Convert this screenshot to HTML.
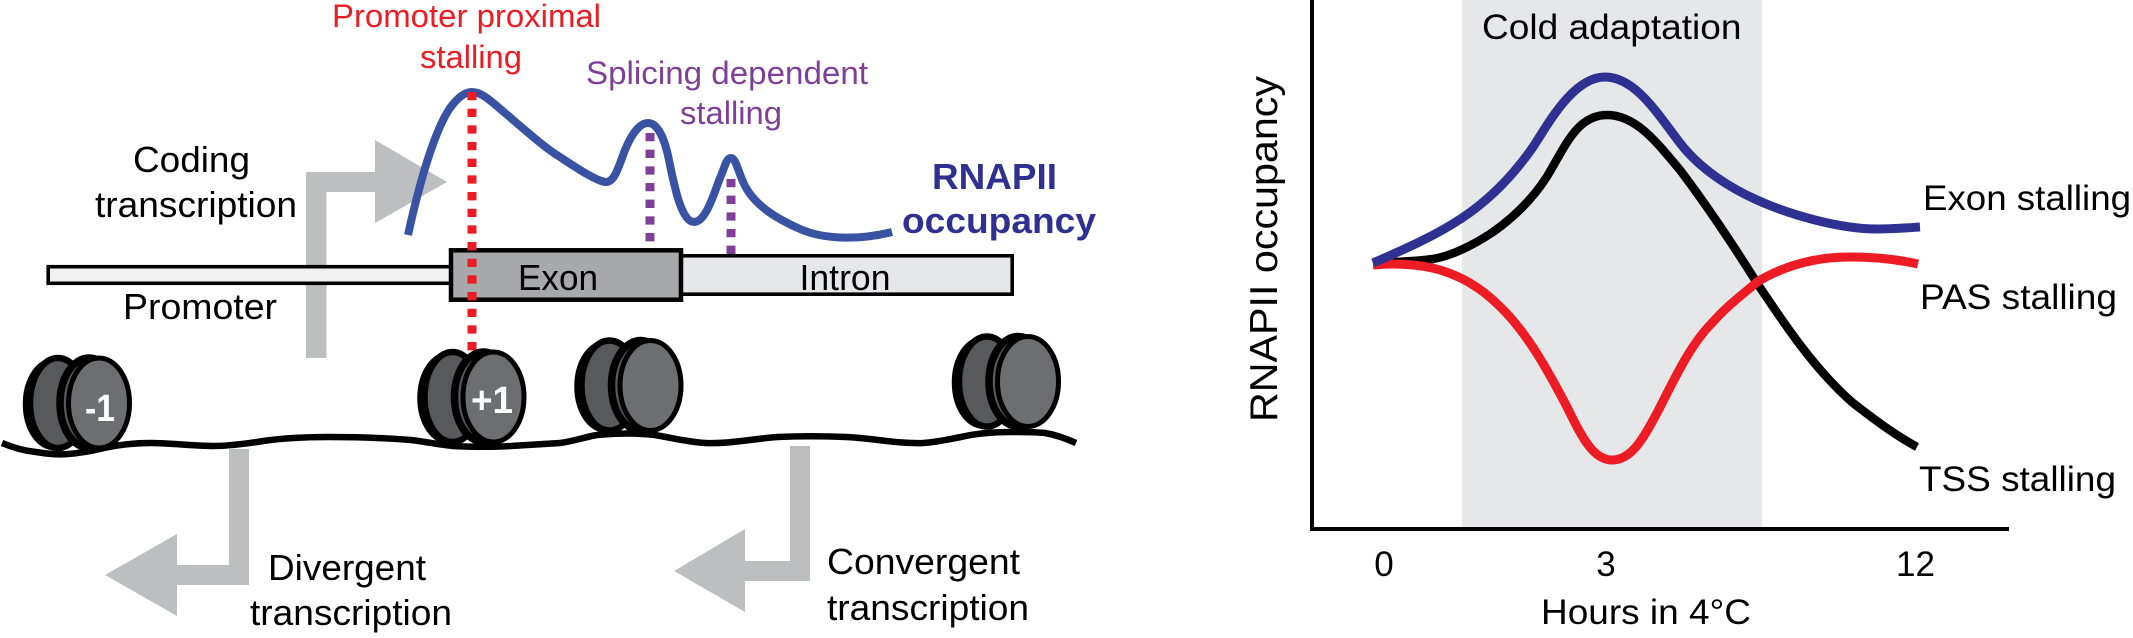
<!DOCTYPE html>
<html><head><meta charset="utf-8"><style>
html,body{margin:0;padding:0;background:#fff;width:2133px;height:638px;overflow:hidden}
svg{display:block}
text{font-family:"Liberation Sans",Arial,sans-serif;font-size:36px;fill:#000}
</style></head><body>
<svg width="2133" height="638" viewBox="0 0 2133 638" xmlns="http://www.w3.org/2000/svg">
<defs>
<g id="nuc">
<ellipse cx="-45" cy="1" rx="29" ry="44" fill="#fff" stroke="#000" stroke-width="4.5"/>
<ellipse cx="-41" cy="0" rx="28" ry="45" fill="#58595b" stroke="#000" stroke-width="6.5"/>
<ellipse cx="-10" cy="0" rx="29" ry="45" fill="#58595b" stroke="#000" stroke-width="7.5"/>
<ellipse cx="0" cy="0" rx="30.5" ry="45" fill="#6d6e71" stroke="#000" stroke-width="5"/>
</g>
</defs>

<!-- Gray arrows -->
<g fill="#bcbec0">
<path d="M306,358V172H375V140L447,182L375,223V192H326.5V358Z"/>
<path d="M229,449H249V585H177V616L105,575L177,534V565H229Z"/>
<path d="M790,446H810V581H745V612L674,571L745,529V561H790Z"/>
</g>

<!-- Promoter and intron bars -->
<rect x="48.2" y="266.7" width="403" height="16.6" fill="#f1f1f2" stroke="#000" stroke-width="3.6"/>
<rect x="681" y="255.8" width="331.2" height="38.4" fill="#e6e7e8" stroke="#000" stroke-width="3.6"/>

<!-- Blue occupancy curve -->
<path d="M408,235C420,180 435,130 450,108C458,97 465,92 472,92C482,92 492,102 505,113C525,130 545,148 560,157C578,169 595,180 605,182C615,183 619,165 625,150C632,133 640,123 648,123C658,123 665,140 669,160C675,190 682,222 694,222C706,222 714,193 720,178C725,167 726,158 731,158C736,158 738,172 745,186C755,205 775,218 800,229C825,240 860,240 892,232" fill="none" stroke="#3953a4" stroke-width="8"/>

<!-- Purple markers -->
<line x1="650" y1="133" x2="650" y2="250" stroke="#7f3f98" stroke-width="9" stroke-dasharray="8.3 8.37"/>
<line x1="731" y1="179" x2="731" y2="254" stroke="#7f3f98" stroke-width="9" stroke-dasharray="8.3 8.37"/>

<!-- Exon -->
<rect x="451" y="250.3" width="230" height="49.4" fill="#a7a9ac" stroke="#000" stroke-width="4.5"/>
<text x="518" y="290" textLength="80" lengthAdjust="spacingAndGlyphs">Exon</text>
<text x="799.5" y="290" textLength="91" lengthAdjust="spacingAndGlyphs">Intron</text>

<!-- Red marker -->
<line x1="472" y1="92" x2="472" y2="359" stroke="#ed1c24" stroke-width="9" stroke-dasharray="8.3 8.37"/>

<!-- DNA -->
<path d="M2,443C14,448 25,451 36,452C48,454 58,455 68,454C82,453 92,451 104,448C118,445 133,443 150,443C172,443 192,446 214,446C230,446 242,444 257,442C280,438 305,437 329,437C360,437 385,438 411,440C428,442 440,445 453,446C475,447 495,447 511,446C528,445 545,444 560,443C575,441 585,437 597,435C617,433 636,433 655,435C672,438 688,442 705,443C730,444 752,439 777,437C800,436 823,436 846,437C872,438 897,444 923,443C938,442 950,439 961,437C978,433 994,432 1011,432C1024,432 1035,432 1045,433C1057,435 1067,439 1076,443" fill="none" stroke="#000" stroke-width="6.5"/>

<!-- Nucleosomes -->
<use href="#nuc" transform="translate(99,403)"/>
<use href="#nuc" transform="translate(493.5,397)"/>
<use href="#nuc" transform="translate(650.5,385.5)"/>
<use href="#nuc" transform="translate(1028,381.5)"/>
<text x="85" y="421" textLength="30" lengthAdjust="spacingAndGlyphs" style="fill:#fff;font-weight:bold;font-size:38px">-1</text>
<text x="471" y="413" textLength="42" lengthAdjust="spacingAndGlyphs" style="fill:#fff;font-weight:bold;font-size:38px">+1</text>

<!-- Left labels -->
<text x="332" y="27" textLength="269" lengthAdjust="spacingAndGlyphs" style="font-size:32px;fill:#ed1c24">Promoter proximal</text>
<text x="420" y="68" textLength="102" lengthAdjust="spacingAndGlyphs" style="font-size:32px;fill:#ed1c24">stalling</text>
<text x="586" y="84" textLength="282" lengthAdjust="spacingAndGlyphs" style="font-size:32px;fill:#7f3f98">Splicing dependent</text>
<text x="680" y="124" textLength="102" lengthAdjust="spacingAndGlyphs" style="font-size:32px;fill:#7f3f98">stalling</text>
<text x="133" y="172" textLength="117" lengthAdjust="spacingAndGlyphs">Coding</text>
<text x="95" y="217" textLength="202" lengthAdjust="spacingAndGlyphs">transcription</text>
<text x="123" y="319" textLength="154" lengthAdjust="spacingAndGlyphs">Promoter</text>
<text x="932" y="189" textLength="125" lengthAdjust="spacingAndGlyphs" style="fill:#2e3192;font-weight:bold">RNAPII</text>
<text x="902" y="233" textLength="194" lengthAdjust="spacingAndGlyphs" style="fill:#2e3192;font-weight:bold">occupancy</text>
<text x="268" y="580" textLength="158" lengthAdjust="spacingAndGlyphs">Divergent</text>
<text x="250" y="625" textLength="202" lengthAdjust="spacingAndGlyphs">transcription</text>
<text x="827" y="574" textLength="193" lengthAdjust="spacingAndGlyphs">Convergent</text>
<text x="827" y="620" textLength="202" lengthAdjust="spacingAndGlyphs">transcription</text>

<!-- Right chart -->
<rect x="1462" y="0" width="300" height="527" fill="#e6e7e8"/>
<path d="M1312,0V529H2009" fill="none" stroke="#000" stroke-width="4"/>

<!-- Black -->
<path d="M1373,263C1390,262 1410,262 1433,259C1455,255 1475,244 1493,232C1520,213 1540,190 1552,168C1568,140 1580,115 1607,115C1635,115 1655,140 1680,170C1705,203 1730,240 1757,283C1785,325 1815,370 1853,403C1875,420 1895,435 1917,447" fill="none" stroke="#000" stroke-width="8.5"/>

<!-- Red -->
<path d="M1373,265C1395,263 1420,264 1440,270C1470,279 1490,295 1510,317C1530,340 1545,365 1567,407C1580,433 1592,460 1612,460C1632,460 1644,437 1657,413C1675,378 1690,345 1712,323C1730,303 1740,297 1757,282C1785,265 1815,257 1850,257C1875,257 1900,260 1918,264" fill="none" stroke="#ed1c24" stroke-width="9"/>

<!-- Blue -->
<path d="M1373,263C1405,249 1435,236 1462,218C1495,196 1517,170 1533,147C1546,128 1572,77 1605,77C1635,77 1657,113 1680,143C1700,169 1730,188 1757,200C1790,215 1840,229 1877,229C1892,229 1905,228 1920,227" fill="none" stroke="#2e3192" stroke-width="9"/>

<text x="1482" y="39" textLength="259.5" lengthAdjust="spacingAndGlyphs" style="font-size:35px">Cold adaptation</text>
<text x="1923" y="210" textLength="208" lengthAdjust="spacingAndGlyphs" style="font-size:35px">Exon stalling</text>
<text x="1920" y="309" textLength="197" lengthAdjust="spacingAndGlyphs" style="font-size:35px">PAS stalling</text>
<text x="1919" y="491" textLength="197" lengthAdjust="spacingAndGlyphs" style="font-size:35px">TSS stalling</text>
<text x="1384" y="576" text-anchor="middle" style="font-size:35px">0</text>
<text x="1606" y="576" text-anchor="middle" style="font-size:35px">3</text>
<text x="1915.5" y="576" text-anchor="middle" style="font-size:35px">12</text>
<text x="1541" y="624" textLength="210" lengthAdjust="spacingAndGlyphs" style="font-size:35px">Hours in 4°C</text>
<text transform="translate(1277,422) rotate(-90)" textLength="346" lengthAdjust="spacingAndGlyphs" style="font-size:39px">RNAPII occupancy</text>
</svg>
</body></html>
